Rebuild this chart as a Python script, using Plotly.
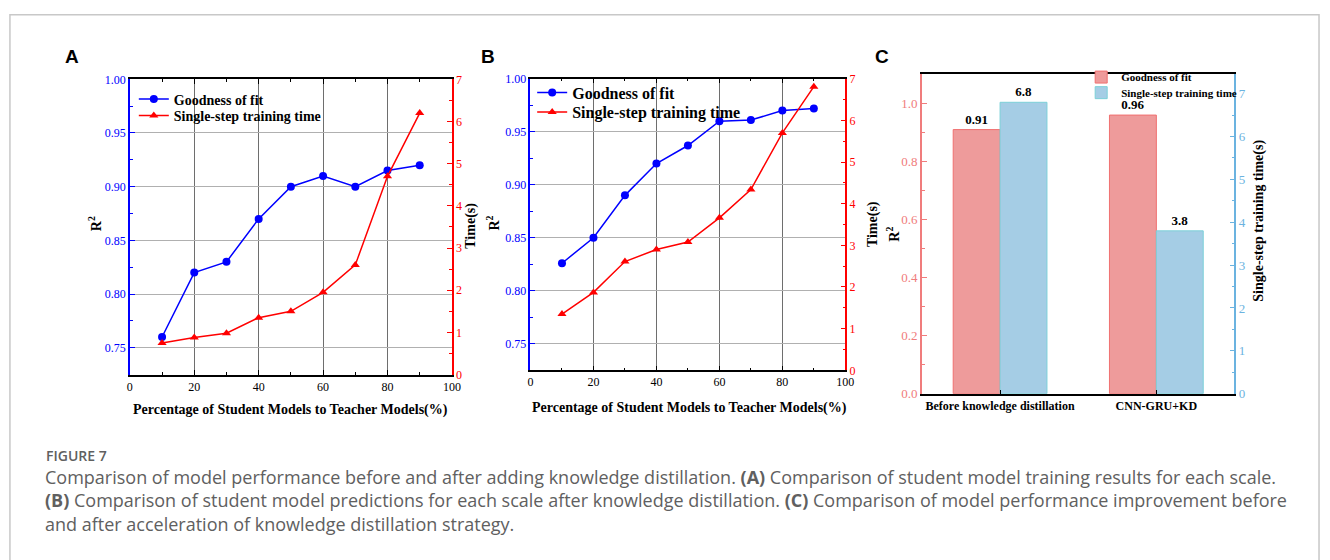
import plotly.graph_objects as go

W, H = 1330, 560

# ---------------- data ----------------
pct = [10, 20, 30, 40, 50, 60, 70, 80, 90]
fit_a = [0.76, 0.82, 0.83, 0.87, 0.90, 0.91, 0.90, 0.915, 0.92]
time_a = [0.75, 0.88, 0.98, 1.35, 1.5, 1.95, 2.6, 4.7, 6.2]
fit_b = [0.826, 0.85, 0.89, 0.92, 0.937, 0.96, 0.961, 0.97, 0.972]
time_b = [1.35, 1.87, 2.61, 2.9, 3.08, 3.66, 4.34, 5.7, 6.81]
cats_c = ["Before knowledge distillation", "CNN-GRU+KD"]
fit_c = [0.91, 0.96]
time_c = [6.8, 3.8]

BLUE = "#0000FF"
RED = "#FF0000"
SERIF = "Liberation Serif"
C_RED = "#F07C7C"
C_BLUE = "#6BB3E0"


def px(x):
    return x / W


def py(y):
    return 1 - y / H


fig = go.Figure()

# Panel A
fig.add_trace(go.Scatter(x=pct, y=fit_a, name="<b>Goodness of fit</b>", mode="lines+markers",
                         line=dict(color=BLUE, width=1.5), marker=dict(symbol="circle", size=8, color=BLUE),
                         xaxis="x", yaxis="y", legend="legend"))
fig.add_trace(go.Scatter(x=pct, y=time_a, name="<b>Single-step training time</b>", mode="lines+markers",
                         line=dict(color=RED, width=1.5), marker=dict(symbol="triangle-up", size=8, color=RED),
                         xaxis="x", yaxis="y2", legend="legend4"))
# Panel B
fig.add_trace(go.Scatter(x=pct, y=fit_b, name="<b>Goodness of fit</b>", mode="lines+markers",
                         line=dict(color=BLUE, width=1.5), marker=dict(symbol="circle", size=8, color=BLUE),
                         xaxis="x2", yaxis="y3", legend="legend2"))
fig.add_trace(go.Scatter(x=pct, y=time_b, name="<b>Single-step training time</b>", mode="lines+markers",
                         line=dict(color=RED, width=1.5), marker=dict(symbol="triangle-up", size=8, color=RED),
                         xaxis="x2", yaxis="y4", legend="legend5"))
# Panel C
fig.add_trace(go.Bar(x=cats_c, y=fit_c, name="<b>Goodness of fit</b>", width=0.3, offset=-0.3,
                     marker=dict(color="#EE9B9B", line=dict(color="#F07070", width=1)),
                     text=[f"{v:.2f}" for v in fit_c], texttemplate="<b>%{text}</b>", textposition="outside",
                     textfont=dict(family=SERIF, size=13, color="black"),
                     cliponaxis=False, xaxis="x3", yaxis="y5", legend="legend3"))
fig.add_trace(go.Bar(x=cats_c, y=time_c, name="<b>Single-step training time</b>", width=0.3, offset=0,
                     marker=dict(color="#A5CDE5", line=dict(color="#7CD0D8", width=1)),
                     text=[f"{v:.1f}" for v in time_c], texttemplate="<b>%{text}</b>", textposition="outside",
                     textfont=dict(family=SERIF, size=13, color="black"),
                     cliponaxis=False, xaxis="x3", yaxis="y6", legend="legend6"))


def xline(domain, anchor):
    return dict(domain=domain, anchor=anchor, range=[0, 100], tickvals=[0, 20, 40, 60, 80, 100],
                showline=True, linecolor="black", linewidth=1.5, mirror="ticks",
                ticks="inside", ticklen=5, tickcolor="black",
                minor=dict(ticks="inside", ticklen=3, dtick=10, tickcolor="black"),
                showgrid=True, gridcolor="#6E6E6E", gridwidth=1, zeroline=False,
                tickprefix="<b>", ticksuffix="</b>",
                tickfont=dict(family=SERIF, size=12, color="black"))


def yleft(domain, anchor):
    return dict(domain=domain, anchor=anchor, range=[0.725, 1.0],
                tickvals=[0.75, 0.80, 0.85, 0.90, 0.95, 1.00], tickformat=".2f",
                showline=True, linecolor=BLUE, linewidth=1.5,
                ticks="inside", ticklen=5, tickcolor=BLUE,
                minor=dict(ticks="inside", ticklen=3, dtick=0.025, tick0=0.75, tickcolor=BLUE),
                showgrid=True, gridcolor="#B0B0B0", gridwidth=1, zeroline=False,
                tickprefix="<b>", ticksuffix="</b>",
                tickfont=dict(family=SERIF, size=12, color=BLUE))


def yright(overlay, anchor):
    return dict(overlaying=overlay, anchor=anchor, side="right", range=[0, 7],
                tickvals=list(range(0, 8)),
                showline=True, linecolor=RED, linewidth=1.5,
                ticks="inside", ticklen=5, tickcolor=RED,
                minor=dict(ticks="inside", ticklen=3, dtick=0.5, tickcolor=RED),
                showgrid=False, zeroline=False,
                tickprefix="<b>", ticksuffix="</b>",
                tickfont=dict(family=SERIF, size=12, color=RED))


def leg(x, y, size):
    return dict(x=px(x), y=py(y), xanchor="left", yanchor="middle", bgcolor="rgba(0,0,0,0)",
                font=dict(family=SERIF, size=size, color="black"), tracegroupgap=0, itemwidth=30)


layout = dict(
    width=W, height=H, margin=dict(l=0, r=0, t=0, b=0),
    paper_bgcolor="white", plot_bgcolor="white",
    barmode="overlay", showlegend=True,
    xaxis=xline([px(128), px(453)], "y"),
    yaxis=yleft([py(377.7), py(74.3)], "x"),
    yaxis2=yright("y", "x"),
    xaxis2=xline([px(532.3), px(850)], "y3"),
    yaxis3=yleft([py(373.3), py(73.7)], "x2"),
    yaxis4=yright("y3", "x2"),
    xaxis3=dict(domain=[px(927.3), px(1242.7)], anchor="y5", range=[-0.5, 1.5],
                showline=True, linecolor="black", linewidth=2, mirror=True,
                ticks="inside", ticklen=4, tickcolor="black", showgrid=False,
                tickfont=dict(family=SERIF, size=12, color="black"), tickprefix="<b>", ticksuffix="</b>"),
    yaxis5=dict(domain=[py(397.3), py(69.3)], anchor="x3", range=[0, 1.1],
                tickvals=[0, 0.2, 0.4, 0.6, 0.8, 1.0], tickformat=".1f",
                showline=True, linecolor=C_RED, linewidth=1.5,
                ticks="inside", ticklen=5, tickcolor=C_RED,
                minor=dict(ticks="inside", ticklen=3, dtick=0.1, tickcolor=C_RED),
                showgrid=False, zeroline=False,
                tickfont=dict(family=SERIF, size=13, color=C_RED)),
    yaxis6=dict(overlaying="y5", anchor="x3", side="right", range=[0, 7.45],
                tickvals=list(range(0, 8)),
                showline=True, linecolor=C_BLUE, linewidth=1.5,
                ticks="inside", ticklen=5, tickcolor=C_BLUE,
                minor=dict(ticks="inside", ticklen=3, dtick=0.5, tickcolor=C_BLUE),
                showgrid=False, zeroline=False,
                tickfont=dict(family=SERIF, size=13, color=C_BLUE)),
    legend=leg(132, 95, 14),
    legend4=leg(132, 112, 14),
    legend2=leg(534, 88, 16),
    legend5=leg(534, 108, 16),
    legend3=leg(1088, 72, 11),
    legend6=leg(1088, 88, 11),
)
fig.update_layout(**layout)

ann = []


def add_text(x, y, text, size, family=SERIF, angle=0, color="black", xanchor="center",
             yanchor="middle", weight=None, align="center"):
    f = dict(family=family, size=size, color=color)
    if weight is not None:
        f["weight"] = weight
    ann.append(dict(x=px(x), y=py(y), xref="paper", yref="paper", text=text, showarrow=False,
                    textangle=angle, xanchor=xanchor, yanchor=yanchor, font=f, align=align))


# panel letters
add_text(70, 51, "<b>A</b>", 19, family="Liberation Sans")
add_text(489, 51, "<b>B</b>", 19, family="Liberation Sans")
add_text(887, 51, "<b>C</b>", 19, family="Liberation Sans")
# axis titles
add_text(93, 223, "<b>R<sup>2</sup></b>", 14, angle=-90)
add_text(472, 225, "<b>Time(s)</b>", 14, angle=-90)
add_text(495, 222, "<b>R<sup>2</sup></b>", 14, angle=-90)
add_text(878, 223, "<b>Time(s)</b>", 14, angle=-90)
add_text(898, 233, "<b>R<sup>2</sup></b>", 14, angle=-90)
add_text(1268, 220, "<b>Single-step training time(s)</b>", 14, angle=-90)
add_text(290, 414, "<b>Percentage of Student Models to Teacher Models(%)</b>", 14)
add_text(693, 412, "<b>Percentage of Student Models to Teacher Models(%)</b>", 14)

# caption
CAP = "#606060"
add_text(41, 461, "FIGURE 7", 14, family="Open Sans", color=CAP, xanchor="left", weight=600)
caption = ("Comparison of model performance before and after adding knowledge distillation. "
           "<b>(A)</b> Comparison of student model training results for each scale.<br>"
           "<b>(B)</b> Comparison of student model predictions for each scale after knowledge distillation. "
           "<b>(C)</b> Comparison of model performance improvement before<br>"
           "and after acceleration of knowledge distillation strategy.")
add_text(40, 507, caption, 18, family="Open Sans", color=CAP, xanchor="left", align="left")

fig.update_layout(annotations=ann)

fig.add_shape(type="rect", xref="paper", yref="paper", x0=px(7), x1=px(1328), y0=-0.2, y1=py(8),
              line=dict(color="#C8C8C8", width=1.5), fillcolor="rgba(0,0,0,0)", layer="below")

fig.write_html("out.html")
